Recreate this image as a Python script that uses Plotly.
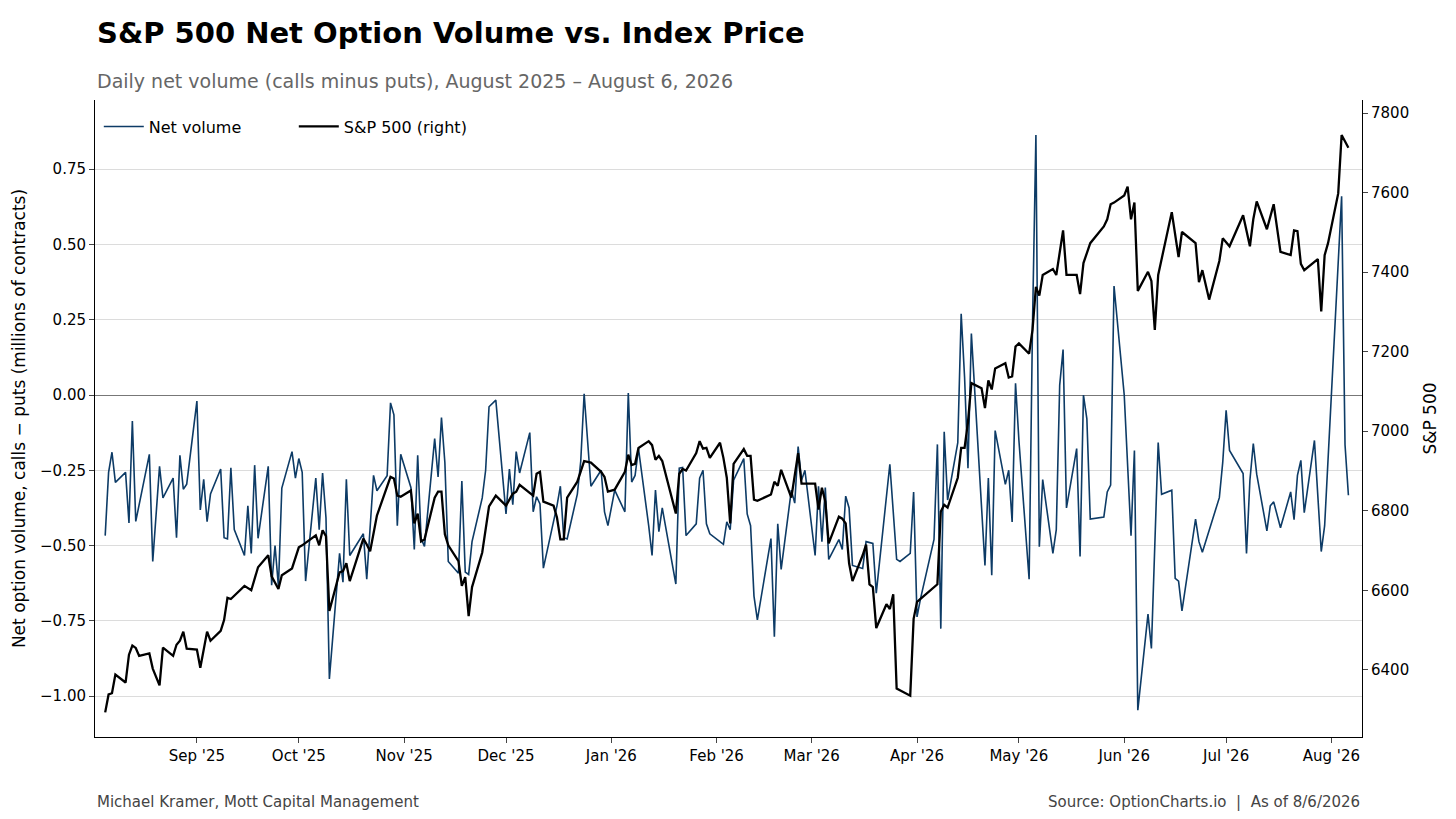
import plotly.graph_objects as go

# Net option volume (calls - puts), millions of contracts
net_dates = [
    "2025-08-05", "2025-08-06", "2025-08-07", "2025-08-08", "2025-08-11", "2025-08-12", "2025-08-13", "2025-08-14",
    "2025-08-18", "2025-08-19", "2025-08-21", "2025-08-22", "2025-08-25", "2025-08-26", "2025-08-27", "2025-08-28",
    "2025-08-29", "2025-09-01", "2025-09-02", "2025-09-03", "2025-09-04", "2025-09-05", "2025-09-08", "2025-09-09",
    "2025-09-10", "2025-09-11", "2025-09-12", "2025-09-15", "2025-09-16", "2025-09-17", "2025-09-18", "2025-09-19",
    "2025-09-22", "2025-09-23", "2025-09-24", "2025-09-25", "2025-09-26", "2025-09-29", "2025-09-30", "2025-10-01",
    "2025-10-02", "2025-10-03", "2025-10-06", "2025-10-07", "2025-10-08", "2025-10-09", "2025-10-10", "2025-10-13",
    "2025-10-14", "2025-10-15", "2025-10-16", "2025-10-20", "2025-10-21", "2025-10-23", "2025-10-24", "2025-10-27",
    "2025-10-28", "2025-10-29", "2025-10-30", "2025-10-31", "2025-11-03", "2025-11-04", "2025-11-05", "2025-11-06",
    "2025-11-07", "2025-11-10", "2025-11-11", "2025-11-12", "2025-11-13", "2025-11-14", "2025-11-17", "2025-11-18",
    "2025-11-19", "2025-11-20", "2025-11-21", "2025-11-24", "2025-11-25", "2025-11-26", "2025-11-28", "2025-12-01",
    "2025-12-02", "2025-12-03", "2025-12-04", "2025-12-05", "2025-12-08", "2025-12-09", "2025-12-10", "2025-12-11",
    "2025-12-12", "2025-12-15", "2025-12-16", "2025-12-17", "2025-12-18", "2025-12-19", "2025-12-22", "2025-12-23",
    "2025-12-24", "2025-12-26", "2025-12-29", "2025-12-30", "2025-12-31", "2026-01-02", "2026-01-05", "2026-01-06",
    "2026-01-07", "2026-01-08", "2026-01-09", "2026-01-12", "2026-01-13", "2026-01-14", "2026-01-15", "2026-01-16",
    "2026-01-20", "2026-01-21", "2026-01-22", "2026-01-23", "2026-01-26", "2026-01-27", "2026-01-28", "2026-01-29",
    "2026-01-30", "2026-02-03", "2026-02-04", "2026-02-05", "2026-02-06", "2026-02-09", "2026-02-10", "2026-02-11",
    "2026-02-12", "2026-02-13", "2026-02-17", "2026-02-18", "2026-02-19", "2026-02-20", "2026-02-23", "2026-02-24",
    "2026-02-25", "2026-02-26", "2026-02-27", "2026-03-02", "2026-03-03", "2026-03-04", "2026-03-05", "2026-03-06",
    "2026-03-09", "2026-03-10", "2026-03-11", "2026-03-12", "2026-03-13", "2026-03-16", "2026-03-17", "2026-03-19",
    "2026-03-20", "2026-03-24", "2026-03-26", "2026-03-27", "2026-03-30", "2026-03-31", "2026-04-01", "2026-04-02",
    "2026-04-06", "2026-04-07", "2026-04-08", "2026-04-09", "2026-04-10", "2026-04-13", "2026-04-14", "2026-04-15",
    "2026-04-16", "2026-04-17", "2026-04-21", "2026-04-22", "2026-04-23", "2026-04-24", "2026-04-27", "2026-04-28",
    "2026-04-29", "2026-04-30", "2026-05-01", "2026-05-04", "2026-05-05", "2026-05-06", "2026-05-07", "2026-05-08",
    "2026-05-11", "2026-05-12", "2026-05-13", "2026-05-14", "2026-05-15", "2026-05-18", "2026-05-19", "2026-05-20",
    "2026-05-21", "2026-05-22", "2026-05-26", "2026-05-27", "2026-05-28", "2026-05-29", "2026-06-01", "2026-06-03",
    "2026-06-04", "2026-06-05", "2026-06-08", "2026-06-09", "2026-06-11", "2026-06-12", "2026-06-15", "2026-06-16",
    "2026-06-17", "2026-06-18", "2026-06-22", "2026-06-23", "2026-06-24", "2026-06-29", "2026-06-30", "2026-07-01",
    "2026-07-02", "2026-07-06", "2026-07-07", "2026-07-08", "2026-07-09", "2026-07-10", "2026-07-13", "2026-07-14",
    "2026-07-15", "2026-07-17", "2026-07-20", "2026-07-21", "2026-07-22", "2026-07-23", "2026-07-24", "2026-07-27",
    "2026-07-29", "2026-07-30", "2026-08-04", "2026-08-05", "2026-08-06",
]
net_volume = [
    -0.467, -0.257, -0.19, -0.29, -0.257, -0.425, -0.086, -0.42,
    -0.197, -0.553, -0.237, -0.342, -0.276, -0.474, -0.2, -0.313,
    -0.296, -0.02, -0.382, -0.28, -0.421, -0.329, -0.246, -0.474,
    -0.478, -0.242, -0.447, -0.533, -0.368, -0.526, -0.233, -0.476,
    -0.237, -0.632, -0.5, -0.636, -0.309, -0.188, -0.276, -0.211,
    -0.257, -0.618, -0.276, -0.447, -0.259, -0.408, -0.943, -0.526,
    -0.622, -0.28, -0.533, -0.461, -0.612, -0.267, -0.318, -0.268,
    -0.026, -0.066, -0.434, -0.197, -0.307, -0.513, -0.2, -0.477,
    -0.503, -0.145, -0.272, -0.075, -0.224, -0.553, -0.592, -0.286,
    -0.588, -0.596, -0.487, -0.342, -0.25, -0.039, -0.017, -0.395,
    -0.246, -0.364, -0.188, -0.259, -0.125, -0.388, -0.338, -0.362,
    -0.575, -0.417, -0.368, -0.303, -0.474, -0.478, -0.329, -0.22,
    0.004, -0.303, -0.25, -0.388, -0.434, -0.316, -0.388, 0.007,
    -0.289, -0.267, -0.178, -0.434, -0.533, -0.316, -0.454, -0.375,
    -0.628, -0.243, -0.241, -0.467, -0.428, -0.276, -0.25, -0.428,
    -0.461, -0.496, -0.421, -0.447, -0.283, -0.211, -0.395, -0.434,
    -0.668, -0.747, -0.477, -0.803, -0.428, -0.579, -0.316, -0.359,
    -0.171, -0.283, -0.25, -0.533, -0.303, -0.487, -0.307, -0.546,
    -0.48, -0.513, -0.336, -0.375, -0.566, -0.576, -0.487, -0.493,
    -0.658, -0.23, -0.546, -0.553, -0.526, -0.322, -0.737, -0.678,
    -0.48, -0.164, -0.776, -0.122, -0.349, -0.158, 0.27, 0.059,
    -0.243, 0.204, -0.566, -0.276, -0.599, -0.118, -0.297, -0.25,
    -0.422, 0.039, -0.151, -0.612, 0.237, 0.864, -0.504, -0.281,
    -0.526, -0.447, 0.033, 0.151, -0.375, -0.178, -0.536, 0.0,
    -0.079, -0.412, -0.405, -0.322, -0.299, 0.362, 0.0, -0.467,
    -0.184, -1.047, -0.728, -0.842, -0.158, -0.33, -0.316, -0.609,
    -0.618, -0.717, -0.412, -0.487, -0.522, -0.341, -0.224, -0.051,
    -0.184, -0.261, -0.526, -0.283, -0.161, -0.263, -0.451, -0.368,
    -0.355, -0.441, -0.322, -0.414, -0.267, -0.217, -0.391, -0.151,
    -0.52, -0.434, 0.66, -0.165, -0.333,
]

# S&P 500 close
spx_dates = [
    "2025-08-05", "2025-08-06", "2025-08-07", "2025-08-08", "2025-08-11", "2025-08-12", "2025-08-13", "2025-08-14",
    "2025-08-15", "2025-08-18", "2025-08-19", "2025-08-21", "2025-08-22", "2025-08-25", "2025-08-26", "2025-08-27",
    "2025-08-28", "2025-08-29", "2025-09-01", "2025-09-02", "2025-09-04", "2025-09-05", "2025-09-08", "2025-09-09",
    "2025-09-10", "2025-09-11", "2025-09-15", "2025-09-17", "2025-09-19", "2025-09-22", "2025-09-23", "2025-09-25",
    "2025-09-26", "2025-09-29", "2025-10-01", "2025-10-02", "2025-10-06", "2025-10-07", "2025-10-08", "2025-10-09",
    "2025-10-10", "2025-10-13", "2025-10-14", "2025-10-15", "2025-10-16", "2025-10-20", "2025-10-21", "2025-10-22",
    "2025-10-24", "2025-10-27", "2025-10-28", "2025-10-29", "2025-10-30", "2025-10-31", "2025-11-03", "2025-11-04",
    "2025-11-05", "2025-11-06", "2025-11-07", "2025-11-10", "2025-11-11", "2025-11-12", "2025-11-13", "2025-11-14",
    "2025-11-17", "2025-11-18", "2025-11-19", "2025-11-20", "2025-11-21", "2025-11-24", "2025-11-26", "2025-11-28",
    "2025-12-01", "2025-12-03", "2025-12-04", "2025-12-05", "2025-12-09", "2025-12-10", "2025-12-11", "2025-12-12",
    "2025-12-15", "2025-12-16", "2025-12-17", "2025-12-18", "2025-12-19", "2025-12-22", "2025-12-24", "2025-12-26",
    "2025-12-29", "2025-12-30", "2025-12-31", "2026-01-02", "2026-01-05", "2026-01-06", "2026-01-07", "2026-01-08",
    "2026-01-09", "2026-01-12", "2026-01-13", "2026-01-14", "2026-01-15", "2026-01-16", "2026-01-20", "2026-01-21",
    "2026-01-22", "2026-01-23", "2026-01-26", "2026-01-27", "2026-01-28", "2026-01-29", "2026-01-30", "2026-02-02",
    "2026-02-03", "2026-02-04", "2026-02-05", "2026-02-06", "2026-02-09", "2026-02-10", "2026-02-11", "2026-02-12",
    "2026-02-13", "2026-02-17", "2026-02-18", "2026-02-19", "2026-02-20", "2026-02-23", "2026-02-25", "2026-02-26",
    "2026-02-27", "2026-03-02", "2026-03-03", "2026-03-04", "2026-03-05", "2026-03-06", "2026-03-09", "2026-03-10",
    "2026-03-11", "2026-03-12", "2026-03-13", "2026-03-16", "2026-03-17", "2026-03-18", "2026-03-19", "2026-03-20",
    "2026-03-23", "2026-03-24", "2026-03-25", "2026-03-26", "2026-03-30", "2026-03-31", "2026-04-01", "2026-04-07",
    "2026-04-08", "2026-04-09", "2026-04-10", "2026-04-13", "2026-04-14", "2026-04-15", "2026-04-16", "2026-04-17",
    "2026-04-20", "2026-04-21", "2026-04-22", "2026-04-23", "2026-04-24", "2026-04-27", "2026-04-28", "2026-04-29",
    "2026-04-30", "2026-05-01", "2026-05-04", "2026-05-05", "2026-05-06", "2026-05-07", "2026-05-08", "2026-05-11",
    "2026-05-12", "2026-05-13", "2026-05-14", "2026-05-15", "2026-05-18", "2026-05-19", "2026-05-20", "2026-05-21",
    "2026-05-22", "2026-05-26", "2026-05-27", "2026-05-28", "2026-05-29", "2026-06-01", "2026-06-02", "2026-06-03",
    "2026-06-04", "2026-06-05", "2026-06-08", "2026-06-09", "2026-06-10", "2026-06-11", "2026-06-15", "2026-06-17",
    "2026-06-18", "2026-06-22", "2026-06-23", "2026-06-24", "2026-06-26", "2026-06-29", "2026-06-30", "2026-07-02",
    "2026-07-06", "2026-07-08", "2026-07-09", "2026-07-10", "2026-07-13", "2026-07-15", "2026-07-17", "2026-07-20",
    "2026-07-21", "2026-07-22", "2026-07-23", "2026-07-24", "2026-07-27", "2026-07-28", "2026-07-29", "2026-07-30",
    "2026-07-31", "2026-08-03", "2026-08-04", "2026-08-06",
]
spx_close = [
    6293, 6338, 6341, 6388, 6368, 6438, 6461, 6455,
    6435, 6441, 6403, 6361, 6456, 6435, 6463, 6473,
    6496, 6453, 6451, 6405, 6496, 6473, 6498, 6525,
    6581, 6578, 6611, 6600, 6658, 6688, 6635, 6603,
    6638, 6655, 6708, 6713, 6738, 6713, 6751, 6736,
    6548, 6645, 6648, 6668, 6623, 6730, 6715, 6698,
    6788, 6865, 6885, 6881, 6838, 6835, 6851, 6768,
    6793, 6723, 6728, 6833, 6848, 6848, 6741, 6713,
    6673, 6611, 6633, 6535, 6608, 6695, 6811, 6838,
    6813, 6843, 6848, 6865, 6838, 6893, 6898, 6823,
    6813, 6783, 6728, 6728, 6833, 6873, 6925, 6921,
    6898, 6885, 6848, 6853, 6898, 6941, 6915, 6918,
    6958, 6975, 6965, 6928, 6938, 6925, 6793, 6893,
    6905, 6901, 6945, 6975, 6956, 6958, 6933, 6971,
    6933, 6883, 6768, 6918, 6955, 6938, 6938, 6828,
    6825, 6841, 6873, 6863, 6903, 6833, 6945, 6868,
    6868, 6868, 6803, 6858, 6823, 6718, 6785, 6780,
    6768, 6668, 6623, 6688, 6715, 6615, 6608, 6505,
    6565, 6553, 6590, 6353, 6335, 6528, 6571, 6615,
    6798, 6815, 6808, 6883, 6958, 6958, 7023, 7121,
    7108, 7058, 7128, 7105, 7158, 7171, 7135, 7138,
    7213, 7221, 7195, 7255, 7363, 7341, 7393, 7408,
    7393, 7451, 7505, 7393, 7393, 7345, 7423, 7448,
    7473, 7515, 7533, 7571, 7575, 7593, 7615, 7533,
    7575, 7353, 7401, 7378, 7255, 7393, 7551, 7438,
    7501, 7473, 7375, 7405, 7331, 7428, 7485, 7465,
    7543, 7465, 7533, 7578, 7508, 7571, 7451, 7443,
    7505, 7503, 7421, 7405, 7425, 7433, 7301, 7443,
    7473, 7598, 7745, 7713,
]

month_ticks = ["2025-09-01", "2025-10-01", "2025-11-01", "2025-12-01", "2026-01-01", "2026-02-01",
               "2026-03-01", "2026-04-01", "2026-05-01", "2026-06-01", "2026-07-01", "2026-08-01"]

FONT = "DejaVu Sans"

fig = go.Figure()
fig.add_trace(go.Scatter(x=net_dates, y=net_volume, mode="lines", name="Net volume",
                         line=dict(color="#0d3b66", width=1.6)))
fig.add_trace(go.Scatter(x=spx_dates, y=spx_close, mode="lines", name="S&P 500 (right)",
                         line=dict(color="black", width=2.3), yaxis="y2"))

fig.update_layout(
    width=1456, height=819,
    paper_bgcolor="white", plot_bgcolor="white",
    font=dict(family=FONT, size=15, color="black"),
    margin=dict(l=87, r=102, t=92, b=90),
    showlegend=True,
    legend=dict(orientation="h", x=0.003, y=0.985, xanchor="left", yanchor="top",
                bgcolor="rgba(0,0,0,0)", font=dict(size=16), itemwidth=40,
                entrywidth=140, entrywidthmode="pixels"),
    xaxis=dict(range=["2025-08-02", "2026-08-10"], tickvals=month_ticks, tickformat="%b '%y",
               showgrid=False, showline=True, linecolor="black", linewidth=1,
               ticks="outside", ticklen=5, zeroline=False, tickfont=dict(size=15)),
    yaxis=dict(range=[-1.136, 0.98], tickvals=[-1.0, -0.75, -0.5, -0.25, 0, 0.25, 0.5, 0.75],
               tickformat=".2f", showgrid=True, gridcolor="#dcdcdc", gridwidth=1, automargin=False,
               showline=True, linecolor="black", linewidth=1, ticks="outside", ticklen=5,
               zeroline=True, zerolinecolor="#777777", zerolinewidth=1.2, tickfont=dict(size=15),
               title=dict(text="Net option volume, calls − puts (millions of contracts)", font=dict(size=17),
                          standoff=10)),
    yaxis2=dict(range=[6231, 7833], overlaying="y", side="right", automargin=False,
                tickvals=[6400, 6600, 6800, 7000, 7200, 7400, 7600, 7800],
                showgrid=False, showline=True, linecolor="black", linewidth=1,
                ticks="outside", ticklen=5, zeroline=False, tickfont=dict(size=15),
                title=dict(text="S&P 500", font=dict(size=17))),
)

fig.add_annotation(text="<b>S&P 500 Net Option Volume vs. Index Price</b>", xref="paper", yref="paper",
                   x=0, y=1, xanchor="left", yanchor="bottom", yshift=48, showarrow=False,
                   font=dict(size=29, color="black"))
fig.add_annotation(text="Daily net volume (calls minus puts), August 2025 – August 6, 2026", xref="paper", yref="paper",
                   x=0, y=1, xanchor="left", yanchor="bottom", yshift=6, showarrow=False,
                   font=dict(size=19, color="#666666"))
fig.add_annotation(text="Michael Kramer, Mott Capital Management", xref="paper", yref="paper",
                   x=0, y=0, xanchor="left", yanchor="top", yshift=-54, showarrow=False,
                   font=dict(size=15, color="#444444"))
fig.add_annotation(text="Source: OptionCharts.io  |  As of 8/6/2026", xref="paper", yref="paper",
                   x=1, y=0, xanchor="right", yanchor="top", yshift=-54, showarrow=False,
                   font=dict(size=15, color="#444444"))

fig.write_html("out.html")
